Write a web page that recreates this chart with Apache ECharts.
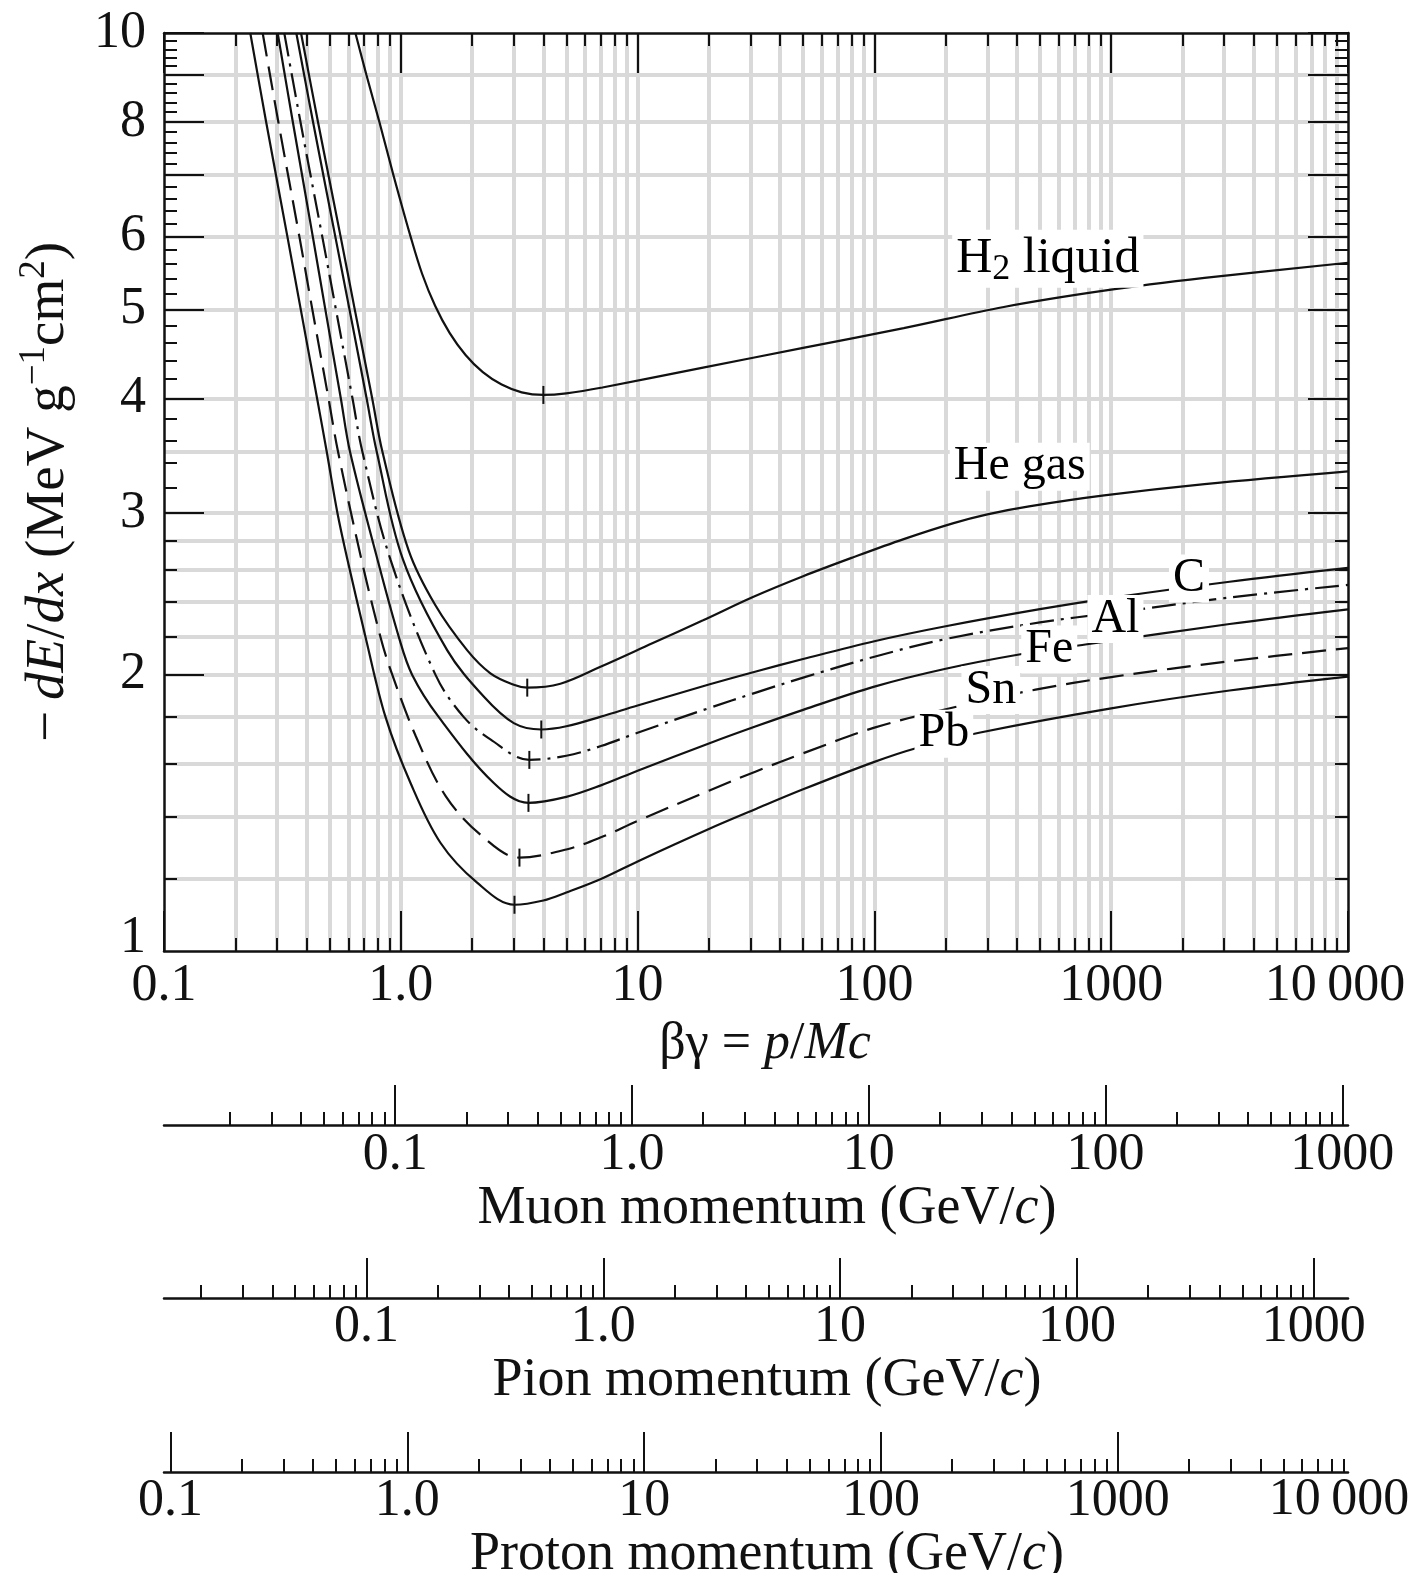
<!DOCTYPE html>
<html><head><meta charset="utf-8">
<script src="https://cdn.jsdelivr.net/npm/echarts@6/dist/echarts.min.js"></script>
<style>html,body{margin:0;padding:0;background:#fff}#c{width:1417px;height:1573px}</style>
</head><body><div id="c"></div>
<script>
// ---------- data (βγ, -dE/dx in MeV g^-1 cm^2) ----------
const H2 = [[0.643,10],[0.716,9],[0.812,8],[0.931,7],[1.10,6],[1.23,5.467],[1.396,5.045],[1.607,4.713],[1.877,4.459],[2.22,4.271],[2.666,4.14],[3.24,4.06],[4.0,4.034],[5.0,4.05],[7.1,4.11],[18.9,4.32],[50,4.54],[133,4.77],[352,5.03],[934,5.24],[2478,5.41],[10000,5.62]];
const HE = [[0.379,10],[0.447,8],[0.557,6],[0.639,5],[0.757,4],[0.836,3.5],[1.08,2.73],[1.4,2.38],[1.905,2.127],[2.39,2.007],[3.0,1.95],[3.42,1.936],[4.72,1.955],[6.97,2.04],[11.6,2.165],[18.9,2.292],[30.7,2.43],[50,2.56],[81.5,2.685],[133,2.81],[216,2.925],[300,2.99],[450,3.05],[934,3.135],[2478,3.225],[10000,3.33]];
const CARBON = [[0.362,10],[0.426,8],[0.529,6],[0.607,5],[0.717,4],[0.791,3.5],[1.021,2.67],[1.569,2.127],[2.239,1.893],[3.0,1.771],[3.92,1.743],[5,1.757],[7,1.80],[10,1.851],[20,1.951],[31.6,2.016],[50,2.08],[100,2.175],[200,2.258],[500,2.357],[1000,2.425],[3162,2.525],[10000,2.614]];
const AL = [[0.322,10],[0.377,8],[0.466,6],[0.532,5],[0.625,4],[0.688,3.5],[0.904,2.67],[1.40,2.0],[1.838,1.8],[2.39,1.7],[3.49,1.615],[5,1.632],[7,1.672],[10,1.729],[20,1.839],[31.6,1.912],[50,1.985],[100,2.092],[200,2.187],[500,2.28],[1000,2.334],[3162,2.427],[10000,2.505]];
const FE = [[0.302,10],[0.350,8],[0.425,6],[0.480,5],[0.558,4],[0.610,3.5],[0.797,2.67],[0.98,2.2],[1.116,2.0],[1.442,1.8],[2.47,1.524],[3.46,1.45],[5,1.472],[7,1.515],[10,1.572],[20,1.683],[31.6,1.757],[50,1.831],[100,1.941],[200,2.03],[414,2.105],[778,2.157],[3162,2.271],[10000,2.356]];
const SN = [[0.261,10],[0.304,8],[0.373,6],[0.423,5],[0.495,4],[0.543,3.5],[0.682,2.67],[0.82,2.2],[0.906,2.023],[1.156,1.715],[1.547,1.475],[2.204,1.334],[3.17,1.264],[5,1.29],[7,1.33],[10,1.386],[20,1.495],[31.6,1.569],[50,1.642],[100,1.751],[223,1.846],[479,1.926],[1000,1.988],[3162,2.068],[10000,2.138]];
const PB = [[0.2314,10],[0.270,8],[0.332,6],[0.378,5],[0.443,4],[0.4865,3.5],[0.540,3.0],[0.595,2.67],[0.709,2.2],[0.861,1.8],[1.098,1.525],[1.47,1.312],[2.10,1.187],[3.02,1.123],[4.0,1.135],[5,1.158],[7,1.198],[10,1.252],[20,1.358],[31.6,1.428],[50,1.50],[100,1.607],[151,1.664],[280,1.73],[1000,1.838],[3162,1.922],[10000,1.99]];

// minimum-ionization marks
const MIN_POINTS = [[4.0,4.034],[3.42,1.936],[3.92,1.743],[3.49,1.615],[3.46,1.450],[3.17,1.264],[3.02,1.123]];

// curve labels and their anchors (βγ, value)
const LABEL_TEXT = ['{a|H}{sub|2}{a| liquid}','He gas','C','Al','Fe','Sn','Pb'];
const LABEL_POS = [[212,5.675],[207,3.368],[1745,2.545],[790,2.30],[415,2.13],[232,1.925],[147,1.725]];

// axis ticks
const X_MAJOR = [0.1,1,10,100,1000,10000];
const X_LABELS = ['0.1','1.0','10','100','1000','10\u2009000'];
const X_MINOR = [0.2,0.3,0.4,0.5,0.6,0.7,0.8,0.9,1,2,3,4,5,6,7,8,9,10,20,30,40,50,60,70,80,90,100,200,300,400,500,600,700,800,900,1000,2000,3000,4000,5000,6000,7000,8000,9000];
const Y_MAJOR = [2,3,4,5,6,7,8,9,10];
const Y_MINOR = [1.2,1.4,1.6,1.8,2.2,2.4,2.6,2.8,3.2,3.4,3.6,3.8,4.2,4.4,4.6,4.8,5.2,5.4,5.6,5.8,6.2,6.4,6.6,6.8,7.2,7.4,7.6,7.8,8.2,8.4,8.6,8.8,9.2,9.4,9.6,9.8];
const Y_GRID = [1.2,1.4,1.6,1.8,2,2.2,2.4,2.6,2.8,3,3.5,4,5,6,7,8,9];
const Y_LABEL_VALUES = [1,2,3,4,5,6,8,10];
const Y_LABELS = ['1','2','3','4','5','6','8','10'];

const P_MAJOR = [0.1,1,10,100,1000];
const P_LABELS = ['0.1','1.0','10','100','1000'];
const P_MINOR = [0.02,0.03,0.04,0.05,0.06,0.07,0.08,0.09,0.2,0.3,0.4,0.5,0.6,0.7,0.8,0.9,2,3,4,5,6,7,8,9,20,30,40,50,60,70,80,90,200,300,400,500,600,700,800,900,2000,3000,4000,5000,6000,7000,8000,9000];
const MUON_MASS = 0.1056584, PION_MASS = 0.1395702, PROTON_MASS = 0.9382721; // GeV/c^2
const BG_MIN = 0.1, BG_MAX = 10000;

// ---------- style ----------
const FONT = '"Liberation Serif", "DejaVu Serif", serif';
const INK = '#111';
const GRIDC = '#d9d9d9';
const LONG = 40, SHORT = 13;

function lookup(values, labels) {
  return function (v) {
    for (let i = 0; i < values.length; i++) if (Math.abs(values[i] - v) <= 1e-6 * values[i]) return labels[i];
    return '';
  };
}
function richTxt(size, supSize) {
  return {
    n: {fontFamily: FONT, fontSize: size, color: INK, lineHeight: 66},
    i: {fontFamily: FONT, fontSize: size, color: INK, fontStyle: 'italic', lineHeight: 66},
    s: {fontFamily: FONT, fontSize: supSize || 36, color: INK, verticalAlign: 'top', lineHeight: 36}
  };
}
function base(type, grid, min, max, extra) {
  return Object.assign({
    type: type, logBase: 10, gridIndex: grid, min: min, max: max,
    axisLine: {show: false, onZero: false},
    axisTick: {show: false},
    axisLabel: {show: false},
    splitLine: {show: false},
    z: 1
  }, extra);
}
function ticks(vals, len) {
  return {show: true, inside: true, length: len, customValues: vals, lineStyle: {color: INK, width: 2}};
}
const AXLINE = {show: true, onZero: false, lineStyle: {color: INK, width: 2.5}};

const xAxes = [
  base('log', 0, BG_MIN, BG_MAX, {position: 'bottom', z: 0,
    axisTick: {show: false, customValues: X_MINOR},
    splitLine: {show: true, lineStyle: {color: GRIDC, width: 4}}}),
  base('log', 0, BG_MIN, BG_MAX, {position: 'bottom', axisLine: AXLINE,
    axisTick: ticks(X_MAJOR, LONG),
    axisLabel: {show: true, customValues: X_MAJOR, margin: 9, fontFamily: FONT, fontSize: 52, color: INK,
      formatter: function (v) { const t = lookup(X_MAJOR, X_LABELS)(v); return v === 10000 ? '{r|' + t + '}' : t; },
      rich: {r: {fontFamily: FONT, fontSize: 52, color: INK, padding: [0, 26, 0, 0]}}},
    name: '{n|βγ = }{i|p}{n|/}{i|Mc}', nameLocation: 'middle', nameGap: 60,
    nameTextStyle: {fontFamily: FONT, fontSize: 52, color: INK, padding: [0, 0, 0, 18], rich: richTxt(52)}}),
  base('log', 0, BG_MIN, BG_MAX, {position: 'bottom', axisTick: ticks(X_MINOR, SHORT)}),
  base('log', 0, BG_MIN, BG_MAX, {position: 'top', axisLine: AXLINE, axisTick: ticks(X_MAJOR, LONG)}),
  base('log', 0, BG_MIN, BG_MAX, {position: 'top', axisTick: ticks(X_MINOR, SHORT)})
];

function momentumAxes(grid, mass, title, labelMargin, nameGap) {
  const lo = BG_MIN * mass, hi = BG_MAX * mass;
  return [
    base('log', grid, lo, hi, {position: 'bottom', axisLine: AXLINE,
      axisTick: ticks(P_MAJOR, LONG),
      axisLabel: {show: true, customValues: P_MAJOR, margin: labelMargin, fontFamily: FONT, fontSize: 52, color: INK,
        formatter: lookup(P_MAJOR, P_LABELS)},
      name: '{n|' + title + ' momentum (GeV/}{i|c}{n|)}', nameLocation: 'middle', nameGap: nameGap,
      nameTextStyle: {fontFamily: FONT, fontSize: 54, color: INK, padding: [0, 0, 0, 22], rich: richTxt(54)}}),
    base('log', grid, lo, hi, {position: 'bottom', axisTick: ticks(P_MINOR, SHORT)})
  ];
}
xAxes.push.apply(xAxes, momentumAxes(1, MUON_MASS, 'Muon', 4, 47));
xAxes.push.apply(xAxes, momentumAxes(2, PION_MASS, 'Pion', 3, 48));
xAxes.push.apply(xAxes, momentumAxes(3, PROTON_MASS, 'Proton', 3, 47));

const yAxes = [
  base('log', 0, 1, 10, {position: 'left', z: 0,
    axisTick: {show: false, customValues: Y_GRID},
    splitLine: {show: true, lineStyle: {color: GRIDC, width: 4}}}),
  base('log', 0, 1, 10, {position: 'left', axisLine: AXLINE,
    axisTick: ticks(Y_MAJOR, LONG),
    axisLabel: {show: true, customValues: Y_LABEL_VALUES, margin: 18, fontFamily: FONT, fontSize: 52, color: INK,
      formatter: function (v) { const t = lookup(Y_LABEL_VALUES, Y_LABELS)(v); return v === 1 ? '{b|' + t + '}' : t; },
      rich: {b: {fontFamily: FONT, fontSize: 52, color: INK, padding: [0, 0, 26, 0]}}},
    name: '{n|−\u2009}{i|dE}{n|/}{i|dx}{n| (MeV g}{s|−1}{n|cm}{s|2}{n|)}',
    nameLocation: 'middle', nameRotate: 90, nameGap: 82,
    nameTextStyle: {fontFamily: FONT, fontSize: 55, color: INK, rich: richTxt(55, 37)}}),
  base('log', 0, 1, 10, {position: 'left', axisTick: ticks(Y_MINOR, SHORT)}),
  base('log', 0, 1, 10, {position: 'right', axisLine: AXLINE, axisTick: ticks(Y_MAJOR, LONG)}),
  base('log', 0, 1, 10, {position: 'right', axisTick: ticks(Y_MINOR, SHORT)}),
  {type: 'value', gridIndex: 1, show: false, min: 0, max: 1},
  {type: 'value', gridIndex: 2, show: false, min: 0, max: 1},
  {type: 'value', gridIndex: 3, show: false, min: 0, max: 1}
];

const CURVES = [
  {data: H2, dash: 'solid'},
  {data: HE, dash: 'solid'},
  {data: CARBON, dash: 'solid'},
  {data: AL, dash: [24, 7, 3, 7]},
  {data: FE, dash: 'solid'},
  {data: SN, dash: [24, 10]},
  {data: PB, dash: 'solid'}
];

const series = CURVES.map(function (c) {
  return {type: 'line', xAxisIndex: 0, yAxisIndex: 0, data: c.data, symbol: 'none', showSymbol: false,
    smooth: 0.35, silent: true, z: 2, lineStyle: {color: INK, width: 2.2, type: c.dash}};
});
series.push({type: 'scatter', xAxisIndex: 0, yAxisIndex: 0, data: MIN_POINTS, symbol: 'rect',
  symbolSize: [2, 18], itemStyle: {color: INK, opacity: 1}, silent: true, z: 3});
series.push({type: 'scatter', xAxisIndex: 0, yAxisIndex: 0, silent: true, z: 4,
  data: LABEL_POS.map(function (p, i) { return {value: p, name: LABEL_TEXT[i]}; }),
  symbolSize: 1, itemStyle: {color: 'rgba(0,0,0,0)', opacity: 1},
  label: {show: true, position: 'right', distance: 0, opacity: 1, formatter: function (p) { return p.name; },
    fontFamily: FONT, fontSize: 48, color: '#000', backgroundColor: '#fff', padding: [0, 4],
    rich: {
      a: {fontFamily: FONT, fontSize: 50, color: '#000', lineHeight: 58},
      sub: {fontFamily: FONT, fontSize: 36, color: '#000', lineHeight: 36, verticalAlign: 'bottom'}
    }}});

const chart = echarts.init(document.getElementById('c'), null, {renderer: 'canvas'});
chart.setOption({
  animation: false,
  backgroundColor: '#fff',
  textStyle: {fontFamily: FONT, color: INK},
  grid: [
    {left: 164, width: 1184, top: 33, height: 918, outerBoundsMode: 'none', containLabel: false},
    {left: 164, width: 1184, top: 1115, height: 10, outerBoundsMode: 'none', containLabel: false},
    {left: 164, width: 1184, top: 1288, height: 10, outerBoundsMode: 'none', containLabel: false},
    {left: 164, width: 1184, top: 1462, height: 10, outerBoundsMode: 'none', containLabel: false}
  ],
  xAxis: xAxes,
  yAxis: yAxes,
  series: series,
  graphic: [{type: 'text', x: 1339, y: 1500, z: 10,
    style: {text: '10\u2009000', fontFamily: FONT, fontSize: 52, fill: INK, align: 'center', verticalAlign: 'middle'}}]
});
</script>
</body></html>
